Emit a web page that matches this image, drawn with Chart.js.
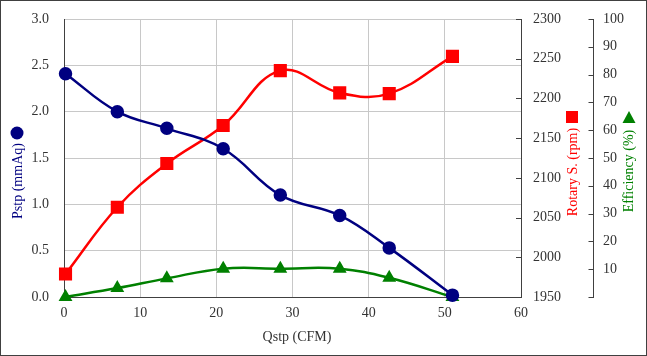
<!DOCTYPE html>
<html>
<head>
<meta charset="utf-8">
<script src="https://cdn.jsdelivr.net/npm/chart.js@4/dist/chart.umd.min.js"></script>
<style>
html,body{margin:0;padding:0;background:#fff;}
#wrap{width:647px;height:356px;position:relative;}
</style>
</head>
<body>
<div id="wrap"><canvas id="c" width="647" height="356"></canvas></div>
<script>
const qstp = [0.2, 7.0, 13.5, 20.9, 28.4, 36.2, 42.7, 51.0];
const pstp = [2.41, 2.00, 1.82, 1.60, 1.10, 0.88, 0.53, 0.02];
const rpm = [1979, 2063, 2118, 2166, 2235, 2207, 2206, 2253];
const efficiency = [0.0, 3.2, 6.7, 10.2, 10.2, 10.2, 6.9, 0.0];
const xTicks = [0, 10, 20, 30, 40, 50, 60];
const pTicks = [0, 0.5, 1, 1.5, 2, 2.5, 3];
const rpmTicks = [1950, 2000, 2050, 2100, 2150, 2200, 2250, 2300];
const effTicks = [0, 10, 20, 30, 40, 50, 60, 70, 80, 90, 100];

const FONT = "'Liberation Serif', 'Times New Roman', serif";
const AXIS = '#404040';
const GRID = '#c8c8c8';
const TICKC = '#333333';

function pts(xs, ys){ return xs.map((x,i)=>({x:x, y:ys[i]})); }
function noPad(s){ s.paddingTop = 0; s.paddingBottom = 0; }

const deco = {
  id:'deco',
  afterDraw(chart){
    const ctx = chart.ctx;
    const y1 = chart.scales.y1, y2 = chart.scales.y2, ca = chart.chartArea;
    ctx.save();
    ctx.strokeStyle = AXIS; ctx.lineWidth = 1;
    rpmTicks.forEach(v=>{
      const py = Math.round(y1.getPixelForValue(v)) + 0.5;
      ctx.beginPath(); ctx.moveTo(ca.right - 5, py); ctx.lineTo(ca.right, py); ctx.stroke();
    });
    const ex = Math.round(y2.left) + 0.5;
    effTicks.forEach(v=>{
      const py = Math.round(y2.getPixelForValue(v)) + 0.5;
      ctx.beginPath(); ctx.moveTo(ex - 5, py); ctx.lineTo(ex, py); ctx.stroke();
    });
    ctx.font = '14px ' + FONT;
    ctx.textAlign = 'center'; ctx.textBaseline = 'middle';
    function vtext(t, x, y, col){
      ctx.save(); ctx.translate(x, y); ctx.rotate(-Math.PI/2);
      ctx.fillStyle = col; ctx.fillText(t, 0, 0); ctx.restore();
    }
    vtext('Pstp (mmAq)', 18, 181, '#000080');
    vtext('Rotary S. (rpm)', 573, 172, '#ff0000');
    vtext('Efficiency (%)', 629, 171, '#008000');
    ctx.fillStyle = '#333333';
    ctx.fillText('Qstp (CFM)', 297, 337);
    ctx.fillStyle = '#000080';
    ctx.beginPath(); ctx.arc(17, 133, 6.5, 0, Math.PI*2); ctx.fill();
    ctx.fillStyle = '#ff0000';
    ctx.fillRect(566, 111, 12, 12);
    ctx.fillStyle = '#008000';
    ctx.beginPath(); ctx.moveTo(629, 111); ctx.lineTo(635.5, 123); ctx.lineTo(622.5, 123); ctx.closePath(); ctx.fill();
    ctx.strokeStyle = '#404040'; ctx.lineWidth = 1;
    ctx.strokeRect(0.5, 0.5, 646, 355);
    ctx.restore();
  }
};

const chart = new Chart(document.getElementById('c'), {
  type:'scatter',
  data:{
    datasets:[
      {label:'Pstp', data:pts(qstp,pstp), yAxisID:'y', showLine:true, borderColor:'#000080', backgroundColor:'#000080', borderWidth:2.5, tension:0.4, pointStyle:'circle', pointRadius:5.5, pointHoverRadius:5.5, clip:false},
      {label:'Rotary', data:pts(qstp,rpm), yAxisID:'y1', showLine:true, borderColor:'#ff0000', backgroundColor:'#ff0000', borderWidth:2.5, tension:0.4, pointStyle:'rect', pointRadius:7.5, pointHoverRadius:7.5, clip:false},
      {label:'Eff', data:pts(qstp,efficiency), yAxisID:'y2', showLine:true, borderColor:'#008000', backgroundColor:'#008000', borderWidth:2.5, tension:0.4, pointStyle:'triangle', pointRadius:5.5, pointHoverRadius:5.5, clip:false}
    ]
  },
  options:{
    responsive:false, animation:false,
    layout:{padding:{top:19, left:0, right:0, bottom:0}},
    plugins:{legend:{display:false}, tooltip:{enabled:false}},
    scales:{
      x:{type:'linear', min:0, max:60,
        afterBuildTicks(s){ s.ticks = xTicks.map(v=>({value:v})); },
        afterFit(s){ s.height = 59; s.paddingLeft = 0; s.paddingRight = 0; },
        grid:{color:GRID, drawTicks:false},
        border:{color:AXIS, width:1},
        ticks:{color:TICKC, font:{family:FONT, size:14}, padding:8, maxRotation:0, callback:v=>String(v)}
      },
      y:{type:'linear', position:'left', min:0, max:3,
        afterBuildTicks(s){ s.ticks = pTicks.map(v=>({value:v})); },
        afterFit(s){ s.width = 64; noPad(s); },
        grid:{color:GRID, drawTicks:false},
        border:{color:AXIS, width:1},
        ticks:{color:TICKC, font:{family:FONT, size:14}, padding:15, callback:v=>v.toFixed(1)}
      },
      y1:{type:'linear', position:'right', weight:0, min:1950, max:2300,
        afterBuildTicks(s){ s.ticks = rpmTicks.map(v=>({value:v})); },
        afterFit(s){ s.width = 72; noPad(s); },
        grid:{drawOnChartArea:false, drawTicks:false},
        border:{color:AXIS, width:1},
        ticks:{color:TICKC, font:{family:FONT, size:14}, padding:12, callback:v=>String(v)}
      },
      y2:{type:'linear', position:'right', weight:1, min:0, max:100,
        afterBuildTicks(s){ s.ticks = effTicks.map(v=>({value:v})); },
        afterFit(s){ s.width = 54; noPad(s); },
        grid:{drawOnChartArea:false, drawTicks:false},
        border:{color:AXIS, width:1},
        ticks:{color:TICKC, font:{family:FONT, size:14}, padding:10, callback:v=>v===0?'':String(v)}
      }
    }
  },
  plugins:[deco]
});
</script>
</body>
</html>
